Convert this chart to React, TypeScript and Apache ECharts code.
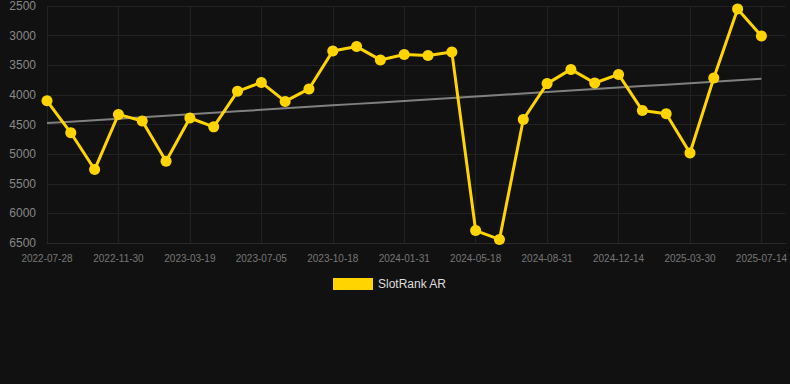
import React, { useEffect, useRef } from "react";
import * as echarts from "echarts";

const categories: string[] = [
  "2022-07-28", "2022-09-08", "2022-10-19",
  "2022-11-30", "2023-01-05", "2023-02-10",
  "2023-03-19", "2023-04-24", "2023-05-30",
  "2023-07-05", "2023-08-09", "2023-09-13",
  "2023-10-18", "2023-11-22", "2023-12-27",
  "2024-01-31", "2024-03-07", "2024-04-12",
  "2024-05-18", "2024-06-22", "2024-07-27",
  "2024-08-31", "2024-10-05", "2024-11-09",
  "2024-12-14", "2025-01-18", "2025-02-22",
  "2025-03-30", "2025-05-04", "2025-06-08",
  "2025-07-14", "",
];

const slotRankAR: number[] = [
  4100, 4640, 5260, 4330, 4440, 5120, 4390, 4540, 3940, 3790,
  4110, 3900, 3260, 3185, 3410, 3320, 3335, 3275, 6290, 6440,
  4415, 3810, 3570, 3800, 3655, 4265, 4320, 4980, 3715, 2550,
  3005,
];

const seriesName = "SlotRank AR";

function trendValues(vals: number[]): number[] {
  const n = vals.length;
  const mx = (n - 1) / 2;
  const my = vals.reduce((a, b) => a + b, 0) / n;
  let num = 0;
  let den = 0;
  vals.forEach((v, i) => {
    num += (i - mx) * (v - my);
    den += (i - mx) * (i - mx);
  });
  const slope = num / den;
  return vals.map((_, i) => my + slope * (i - mx));
}

export default function App() {
  const ref = useRef<HTMLDivElement>(null);
  useEffect(() => {
    if (!ref.current) return;
    const chart = echarts.init(ref.current, undefined, { renderer: "svg" });
    const trend = trendValues(slotRankAR);
    chart.setOption({
      animation: false,
      backgroundColor: "#111111",
      textStyle: { fontFamily: "Liberation Sans, Arial, sans-serif" },
      grid: { left: 47, right: 4, top: 6, bottom: 141, containLabel: false },
      legend: {
        data: [seriesName],
        top: 273,
        left: 328,
        itemWidth: 40,
        itemHeight: 12,
        itemGap: 10,
        icon: "rect",
        textStyle: { color: "#dddddd", fontSize: 12 },
      },
      xAxis: {
        type: "category",
        data: categories,
        boundaryGap: false,
        axisLine: { show: true, lineStyle: { color: "#2a2a2a" } },
        axisTick: { show: false },
        axisLabel: { interval: 2, color: "#777777", fontSize: 10, margin: 10 },
        splitLine: { show: true, interval: 2, lineStyle: { color: "#222222", width: 1 } },
      },
      yAxis: {
        type: "value",
        inverse: true,
        min: 2500,
        max: 6500,
        interval: 500,
        axisLine: { show: false },
        axisTick: { show: false },
        axisLabel: {
          color: "#888888",
          fontSize: 12,
          margin: 11,
          formatter: (v: number) => String(v),
        },
        splitLine: { show: true, lineStyle: { color: "#222222", width: 1 } },
      },
      series: [
        {
          name: "Trend",
          type: "line",
          data: trend,
          showSymbol: false,
          symbol: "none",
          lineStyle: { color: "#808080", width: 2 },
          z: 2,
          silent: true,
        },
        {
          name: seriesName,
          type: "line",
          data: slotRankAR,
          symbol: "circle",
          symbolSize: 11,
          itemStyle: { color: "#ffd400" },
          lineStyle: { color: "#ffd400", width: 3 },
          z: 3,
        },
      ],
    });
    return () => chart.dispose();
  }, []);
  return (
    <div
      ref={ref}
      style={{ position: "fixed", left: 0, top: 0, width: 790, height: 384 }}
    />
  );
}
